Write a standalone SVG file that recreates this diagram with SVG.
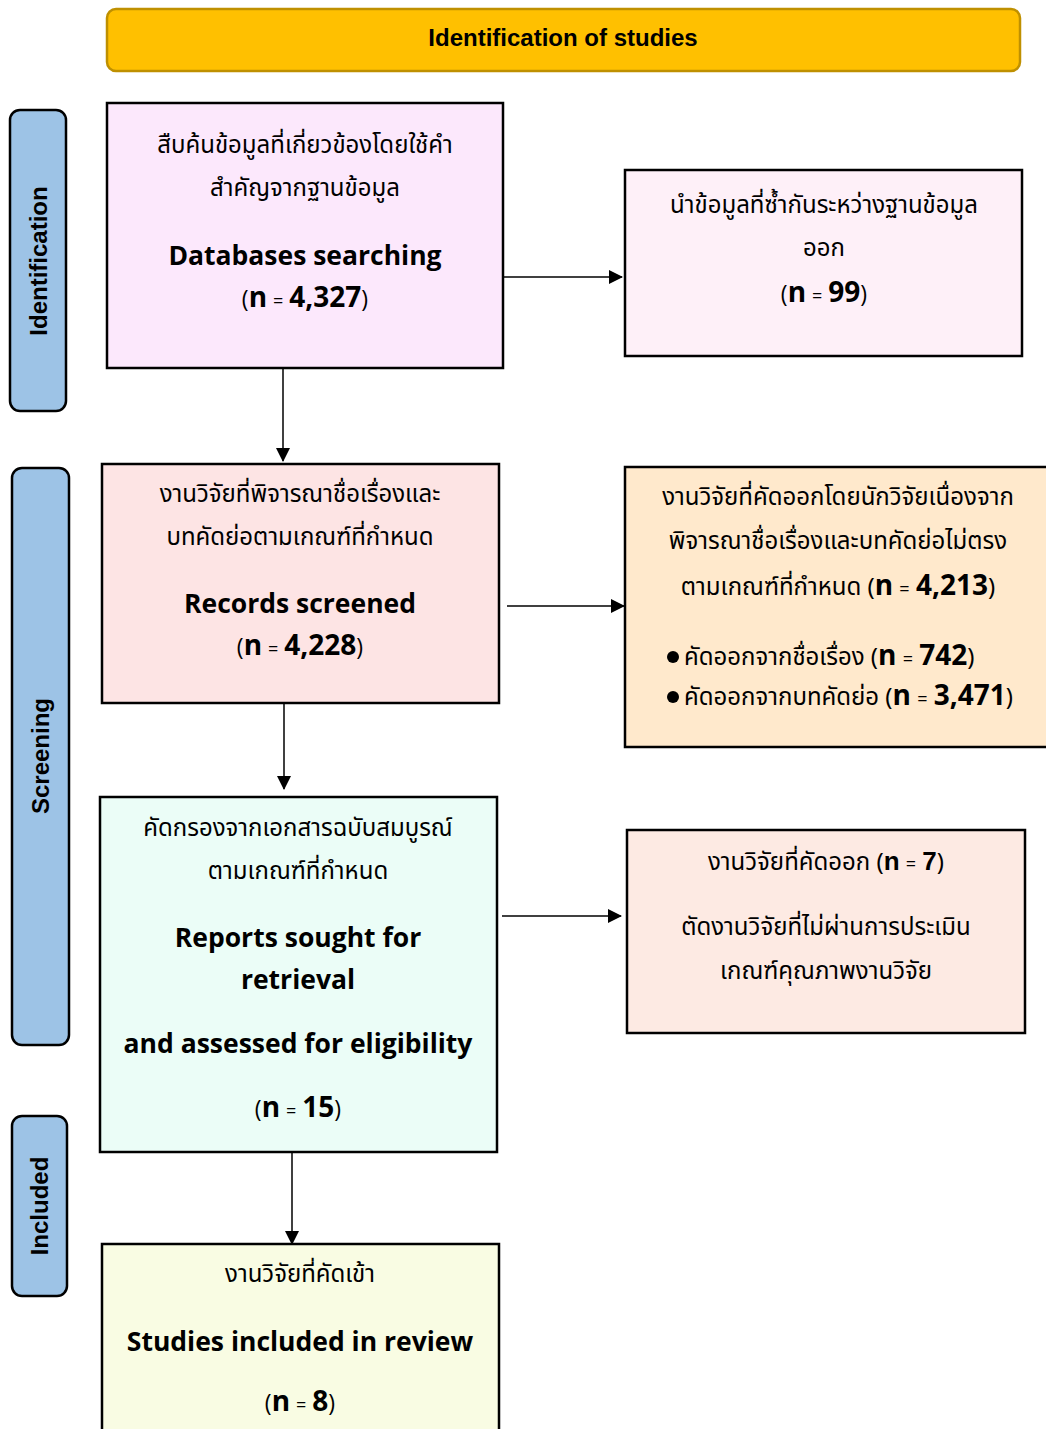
<svg xmlns="http://www.w3.org/2000/svg" width="1046" height="1429" viewBox="0 0 1046 1429">
<defs>
<marker id="ah" markerWidth="14" markerHeight="14" refX="13" refY="7" orient="auto" markerUnits="userSpaceOnUse" viewBox="0 0 14 14">
<path d="M0,0 L14,7 L0,14 z" fill="#000"/>
</marker>
<style>
.box{stroke:#000;stroke-width:2.5}
.side{fill:#9DC3E6;stroke:#000;stroke-width:2.5}
.sidet{font-family:"Liberation Sans",Arial,sans-serif;font-weight:bold;font-size:24px;fill:#000;text-anchor:middle}
.th{font-family:"Noto Sans Thai","Tahoma","DejaVu Sans","Liberation Sans",sans-serif;font-size:24px;fill:#000}
.c{text-anchor:middle}
.s{text-anchor:start}
.en{font-family:"Open Sans","Liberation Sans",sans-serif;font-weight:bold;font-size:26.5px;fill:#000;text-anchor:middle}
.nn{font-family:"Open Sans","Liberation Sans",sans-serif;font-size:23px;fill:#000;text-anchor:middle}
.b{font-family:"Open Sans","Liberation Sans",sans-serif;font-weight:bold;font-size:28px}
.eq{font-family:"Open Sans","Liberation Sans",sans-serif;font-size:18px}
.conn{stroke:#000;stroke-width:1.5;fill:none}
</style>
</defs>
<g id="header">
<rect x="107" y="9" width="913" height="62" rx="9" fill="#FFC000" stroke="#BF9000" stroke-width="2.5"/>
<text x="563" y="46" font-family="Liberation Sans,Arial,sans-serif" font-weight="bold" font-size="24" text-anchor="middle">Identification of studies</text>
</g>
<g id="side-identification">
<rect class="side" x="10" y="110" width="56" height="301" rx="10"/>
<text class="sidet" transform="translate(47,261) rotate(-90)">Identification</text>
</g>
<g id="side-screening">
<rect class="side" x="12" y="468" width="57" height="577" rx="10"/>
<text class="sidet" transform="translate(49,756) rotate(-90)">Screening</text>
</g>
<g id="side-included">
<rect class="side" x="12" y="1116" width="55" height="180" rx="10"/>
<text class="sidet" transform="translate(48,1206) rotate(-90)">Included</text>
</g>
<g id="connectors">
<line class="conn" x1="503" y1="277" x2="622" y2="277" marker-end="url(#ah)"/>
<line class="conn" x1="283" y1="368" x2="283" y2="461" marker-end="url(#ah)"/>
<line class="conn" x1="507" y1="606" x2="624" y2="606" marker-end="url(#ah)"/>
<line class="conn" x1="284" y1="703" x2="284" y2="789" marker-end="url(#ah)"/>
<line class="conn" x1="502" y1="916" x2="621" y2="916" marker-end="url(#ah)"/>
<line class="conn" x1="292" y1="1152" x2="292" y2="1244" marker-end="url(#ah)"/>
</g>
<g id="node-databases">
<rect class="box" x="107" y="103" width="396" height="265" fill="#FCE8FC"/>
<text class="th c" x="305" y="153">สืบค้นข้อมูลที่เกี่ยวข้องโดยใช้คำ</text>
<text class="th c" x="305" y="196">สำคัญจากฐานข้อมูล</text>
<text class="en" x="305" y="265">Databases searching</text>
<text class="nn" x="305" y="307">(<tspan class="b">n</tspan> <tspan class="eq">=</tspan> <tspan class="b">4,327</tspan>)</text>
</g>
<g id="node-duplicates">
<rect class="box" x="625" y="170" width="397" height="186" fill="#FEF0F8"/>
<text class="th c" x="824" y="213">นำข้อมูลที่ซ้ำกันระหว่างฐานข้อมูล</text>
<text class="th c" x="824" y="256">ออก</text>
<text class="nn" x="824" y="302">(<tspan class="b">n</tspan> <tspan class="eq">=</tspan> <tspan class="b">99</tspan>)</text>
</g>
<g id="node-screened">
<rect class="box" x="102" y="464" width="397" height="239" fill="#FDE4E4"/>
<text class="th c" x="300" y="502">งานวิจัยที่พิจารณาชื่อเรื่องและ</text>
<text class="th c" x="300" y="545">บทคัดย่อตามเกณฑ์ที่กำหนด</text>
<text class="en" x="300" y="613">Records screened</text>
<text class="nn" x="300" y="655">(<tspan class="b">n</tspan> <tspan class="eq">=</tspan> <tspan class="b">4,228</tspan>)</text>
</g>
<g id="node-excluded-screen">
<rect class="box" x="625" y="467" width="425" height="280" fill="#FFE9CC"/>
<text class="th c" x="838" y="505">งานวิจัยที่คัดออกโดยนักวิจัยเนื่องจาก</text>
<text class="th c" x="838" y="549">พิจารณาชื่อเรื่องและบทคัดย่อไม่ตรง</text>
<text class="th c" x="838" y="595">ตามเกณฑ์ที่กำหนด (<tspan class="b">n</tspan> <tspan class="eq">=</tspan> <tspan class="b">4,213</tspan>)</text>
<circle cx="673" cy="657" r="6" fill="#000"/>
<text class="th s" x="684" y="665">คัดออกจากชื่อเรื่อง (<tspan class="b">n</tspan> <tspan class="eq">=</tspan> <tspan class="b">742</tspan>)</text>
<circle cx="673" cy="697" r="6" fill="#000"/>
<text class="th s" x="684" y="705">คัดออกจากบทคัดย่อ (<tspan class="b">n</tspan> <tspan class="eq">=</tspan> <tspan class="b">3,471</tspan>)</text>
</g>
<g id="node-reports">
<rect class="box" x="100" y="797" width="397" height="355" fill="#EBFDF7"/>
<text class="th c" x="298" y="836">คัดกรองจากเอกสารฉบับสมบูรณ์</text>
<text class="th c" x="298" y="879">ตามเกณฑ์ที่กำหนด</text>
<text class="en" x="298" y="947">Reports sought for</text>
<text class="en" x="298" y="989">retrieval</text>
<text class="en" x="298" y="1053">and assessed for eligibility</text>
<text class="nn" x="298" y="1117">(<tspan class="b">n</tspan> <tspan class="eq">=</tspan> <tspan class="b">15</tspan>)</text>
</g>
<g id="node-excluded-quality">
<rect class="box" x="627" y="830" width="398" height="203" fill="#FDEAE3"/>
<text class="th c" x="826" y="870">งานวิจัยที่คัดออก (<tspan font-weight="bold" font-size="26" font-family="Liberation Sans,Arial,sans-serif">n</tspan> <tspan class="eq">=</tspan> <tspan font-weight="bold" font-size="26" font-family="Liberation Sans,Arial,sans-serif">7</tspan>)</text>
<text class="th c" x="826" y="935">ตัดงานวิจัยที่ไม่ผ่านการประเมิน</text>
<text class="th c" x="826" y="979">เกณฑ์คุณภาพงานวิจัย</text>
</g>
<g id="node-included">
<rect class="box" x="102" y="1244" width="397" height="200" fill="#F9FCE3"/>
<text class="th c" x="300" y="1282">งานวิจัยที่คัดเข้า</text>
<text class="en" x="300" y="1351">Studies included in review</text>
<text class="nn" x="300" y="1411">(<tspan class="b">n</tspan> <tspan class="eq">=</tspan> <tspan class="b">8</tspan>)</text>
</g>
</svg>
